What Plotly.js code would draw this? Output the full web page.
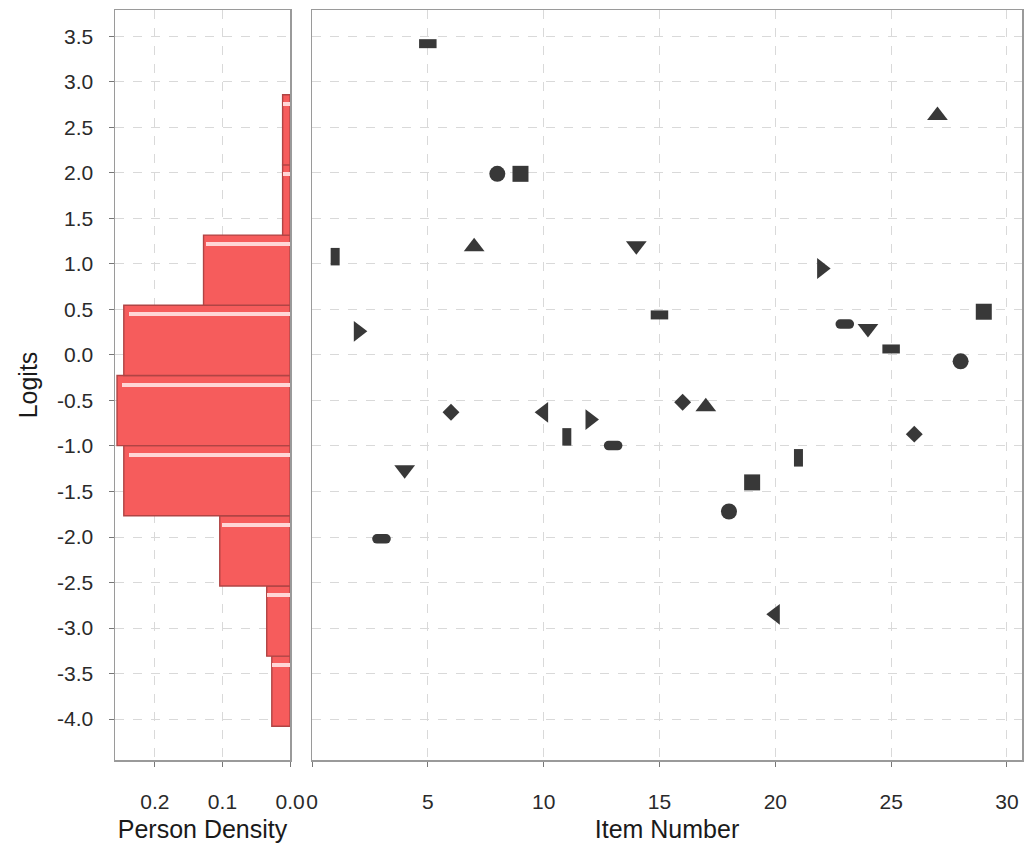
<!DOCTYPE html>
<html>
<head>
<meta charset="utf-8">
<script src="https://cdn.plot.ly/plotly-3.0.1.min.js"></script>
<style>
  html, body { margin: 0; padding: 0; background: #ffffff; }
  #chart { width: 1029px; height: 852px; }
</style>
</head>
<body>
<div id="chart"></div>
<script>
// ---- Data ----
// Person density histogram (bin centres in logits, bottom to top)
const binCenters = [-3.6945, -2.9235, -2.1525, -1.3815, -0.6105, 0.1605, 0.9315, 1.7025, 2.4735];
const binWidth = 0.771;
const personDensity = [0.027, 0.0345, 0.104, 0.246, 0.256, 0.246, 0.128, 0.011, 0.011];

// Item difficulties
const itemNumbers = [1,2,3,4,5,6,7,8,9,10,11,12,13,14,15,16,17,18,19,20,21,22,23,24,25,26,27,28,29];
const itemLogits = [1.08, 0.26, -2.02, -1.26, 3.42, -0.63, 1.19, 1.99, 1.99, -0.63,
                    -0.90, -0.71, -0.995, 1.20, 0.44, -0.52, -0.57, -1.72, -1.40, -2.85,
                    -1.13, 0.95, 0.34, 0.29, 0.066, -0.87, 2.63, -0.07, 0.475];
const itemShapes = ['vrect','rtri','ellipse','dtri','hrect','diamond','utri','circle','square','ltri',
                    'vrect','rtri','ellipse','dtri','hrect','diamond','utri','circle','square','ltri',
                    'vrect','rtri','ellipse','dtri','hrect','diamond','utri','circle','square'];

// Tick labels
const yTickVals = [3.5, 3.0, 2.5, 2.0, 1.5, 1.0, 0.5, 0.0, -0.5, -1.0, -1.5, -2.0, -2.5, -3.0, -3.5, -4.0];
const yTickText = ['3.5','3.0','2.5','2.0','1.5','1.0','0.5','0.0','-0.5','-1.0','-1.5','-2.0','-2.5','-3.0','-3.5','-4.0'];
const densityTickVals = [0.2, 0.1, 0.0];
const densityTickText = ['0.2', '0.1', '0.0'];
const itemTickVals = [0, 5, 10, 15, 20, 25, 30];
const itemTickText = ['0', '5', '10', '15', '20', '25', '30'];

// ---- Styles ----
const markColor = '#383838';
const shapeStyle = {
  vrect:   {symbol: 'line-ns', size: 12.5, lw: 9},
  hrect:   {symbol: 'line-ew', size: 12.5, lw: 9},
  ellipse: {symbol: 'line-ew', size: 6.5, lw: 9.5, round: true},
  rtri:    {symbol: 'triangle-right', size: 18, lw: 0},
  ltri:    {symbol: 'triangle-left', size: 18, lw: 0},
  utri:    {symbol: 'triangle-up', size: 18, lw: 0},
  dtri:    {symbol: 'triangle-down', size: 18, lw: 0},
  diamond: {symbol: 'diamond', size: 13, lw: 0},
  circle:  {symbol: 'circle', size: 16, lw: 0},
  square:  {symbol: 'square', size: 16, lw: 0}
};

const traces = [];
// histogram bars
traces.push({
  type: 'bar', orientation: 'h',
  x: personDensity, y: binCenters, width: binWidth,
  xaxis: 'x', yaxis: 'y',
  marker: {color: '#f65c5c', line: {color: '#b04444', width: 1.4}},
  hoverinfo: 'x+y', showlegend: false
});
// highlight stripe near the top of each bar
traces.push({
  type: 'bar', orientation: 'h',
  x: personDensity.map(d => d * 0.97), y: binCenters.map(c => c + binWidth / 2 - 0.1), width: 0.045,
  xaxis: 'x', yaxis: 'y',
  marker: {color: '#ffd6d6', line: {width: 0}},
  hoverinfo: 'skip', showlegend: false
});

const shapeOrder = ['vrect','rtri','ellipse','dtri','hrect','diamond','utri','circle','square','ltri'];
let ellipseIndex = -1;
shapeOrder.forEach((shp, k) => {
  const xs = [], ys = [];
  itemShapes.forEach((s, i) => { if (s === shp) { xs.push(itemNumbers[i]); ys.push(itemLogits[i]); } });
  const st = shapeStyle[shp];
  if (st.round) ellipseIndex = k;
  traces.push({
    type: 'scatter', mode: 'markers', x: xs, y: ys,
    xaxis: 'x2', yaxis: 'y2',
    marker: {symbol: st.symbol, size: st.size, color: markColor,
             line: {color: markColor, width: st.lw}},
    showlegend: false, name: shp
  });
});

const tickFont = {family: 'Liberation Sans, Arial, sans-serif', size: 21, color: '#2a2a2a'};
const titleFont = {family: 'Liberation Sans, Arial, sans-serif', size: 25, color: '#1a1a1a'};
const gridCommon = {
  showgrid: true, gridcolor: '#d9d9d9', griddash: 'dash', gridwidth: 1,
  zeroline: false, showline: true, mirror: true, linecolor: '#9a9a9a', linewidth: 1.5,
  ticks: 'outside', ticklen: 5, tickcolor: '#777777', tickfont: tickFont
};

const layout = {
  width: 1029, height: 852,
  margin: {l: 115, r: 7, t: 10, b: 92},
  paper_bgcolor: '#ffffff', plot_bgcolor: '#ffffff',
  bargap: 0, barmode: 'overlay',
  showlegend: false,
  xaxis: Object.assign({}, gridCommon, {
    domain: [0, 0.193], range: [0.259, 0], anchor: 'y',
    tickmode: 'array', tickvals: densityTickVals, ticktext: densityTickText,
    ticklabelstandoff: 17,
    title: {text: 'Person Density', font: titleFont, standoff: 9}
  }),
  yaxis: Object.assign({}, gridCommon, {
    range: [-4.45, 3.79], anchor: 'x',
    tickmode: 'array', tickvals: yTickVals, ticktext: yTickText,
    ticklabelstandoff: 11,
    title: {text: 'Logits', font: titleFont, standoff: 12}
  }),
  xaxis2: Object.assign({}, gridCommon, {
    domain: [0.2172, 1], range: [0, 30.65], anchor: 'y2',
    tickmode: 'array', tickvals: itemTickVals, ticktext: itemTickText,
    ticklabelstandoff: 17,
    title: {text: 'Item Number', font: titleFont, standoff: 9}
  }),
  yaxis2: Object.assign({}, gridCommon, {
    matches: 'y', anchor: 'x2', showticklabels: false, ticks: '',
    tickmode: 'array', tickvals: yTickVals
  })
};

Plotly.newPlot('chart', traces, layout, {displayModeBar: false, staticPlot: true}).then(gd => {
  const groups = gd.querySelectorAll('.scatterlayer .trace');
  if (ellipseIndex >= 0 && groups[ellipseIndex]) {
    groups[ellipseIndex].querySelectorAll('path.point').forEach(p => p.style.strokeLinecap = 'round');
  }
});
</script>
</body>
</html>
